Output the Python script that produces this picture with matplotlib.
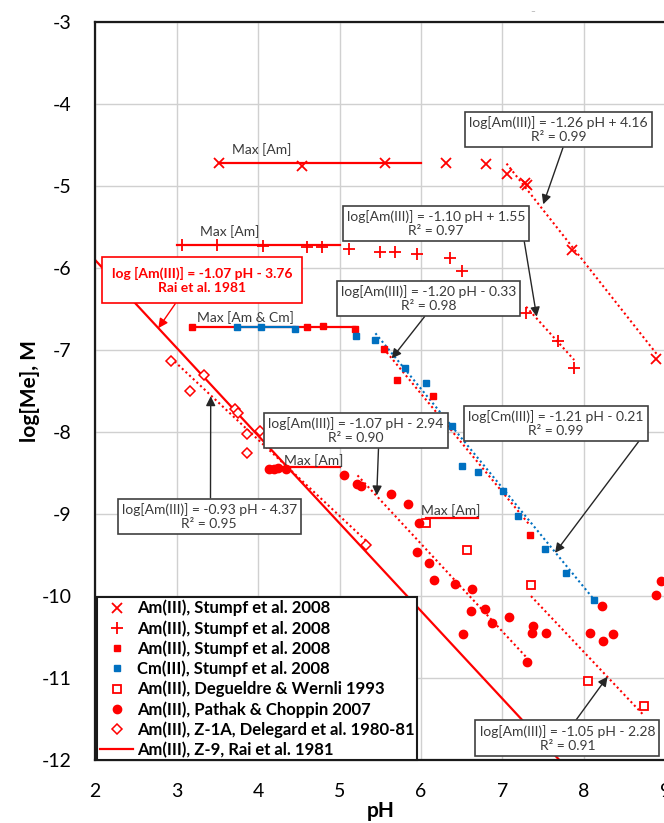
import matplotlib
matplotlib.use('Agg')
import matplotlib.pyplot as plt
import numpy as np

plt.rcParams['font.family'] = ['Lato', 'DejaVu Sans']
plt.rcParams['axes.unicode_minus'] = False

RED = '#ff0000'
BLUE = '#0070c0'
BOX_TEXT = '#3a3a3a'

# Am(III), Stumpf et al. 2008 (x markers)
x_ph = [3.52, 4.54, 5.56, 6.31, 6.80, 7.05, 7.28, 7.30, 7.85, 8.89]
x_log = [-4.72, -4.75, -4.71, -4.71, -4.73, -4.85, -4.96, -4.98, -5.78, -7.11]

# Am(III), Stumpf et al. 2008 (+ markers)
plus_ph = [3.07, 3.49, 4.06, 4.60, 4.79, 5.11, 5.50, 5.68, 5.95, 6.35, 6.50, 7.29, 7.68, 7.88]
plus_log = [-5.72, -5.72, -5.73, -5.74, -5.74, -5.77, -5.80, -5.80, -5.83, -5.88, -6.03, -6.54, -6.89, -7.21]

# Am(III), Stumpf et al. 2008 (filled squares)
am_sq_ph = [3.19, 4.60, 4.80, 5.19, 5.54, 5.70, 6.15, 7.34]
am_sq_log = [-6.71, -6.71, -6.70, -6.74, -6.98, -7.36, -7.56, -9.25]

# Cm(III), Stumpf et al. 2008
cm_ph = [3.74, 4.04, 4.45, 5.20, 5.44, 5.80, 6.06, 6.38, 6.50, 6.70, 7.01, 7.19, 7.52, 7.78, 8.12]
cm_log = [-6.71, -6.72, -6.74, -6.82, -6.87, -7.22, -7.40, -7.92, -8.41, -8.48, -8.72, -9.02, -9.42, -9.72, -10.04]

# Am(III), Degueldre & Wernli 1993
deg_ph = [6.06, 6.57, 7.35, 8.05, 8.74]
deg_log = [-9.11, -9.43, -9.86, -11.03, -11.34]

# Am(III), Pathak & Choppin 2007
pathak_ph = [4.13, 4.19, 4.24, 4.34, 5.05, 5.22, 5.26, 5.63, 5.84, 5.98, 5.95, 6.10, 6.16, 6.42, 6.63,
             6.61, 6.78, 7.08, 6.87, 6.51, 7.37, 7.36, 7.53, 7.30, 8.07, 8.22, 8.23, 8.36, 8.88, 8.95]
pathak_log = [-8.45, -8.45, -8.44, -8.45, -8.52, -8.63, -8.65, -8.75, -8.87, -9.11, -9.46, -9.60, -9.80, -9.85, -9.91,
              -10.18, -10.15, -10.25, -10.32, -10.46, -10.36, -10.45, -10.45, -10.80, -10.45, -10.12, -10.55, -10.46, -9.98, -9.81]

# Am(III), Z-1A, Delegard et al. 1980-81
delegard_ph = [2.93, 3.16, 3.34, 3.72, 3.75, 3.86, 4.02, 3.86, 5.32]
delegard_log = [-7.13, -7.50, -7.30, -7.72, -7.77, -8.02, -7.98, -8.25, -9.37]

# linear fits: slope, intercept, pH from, pH to
fit_x = (-1.26, 4.16, 7.05, 8.89)
fit_plus = (-1.10, 1.55, 7.29, 7.88)
fit_am_sq = (-1.20, -0.33, 5.54, 7.34)
fit_cm = (-1.21, -0.21, 5.44, 8.12)
fit_pathak = (-1.07, -2.94, 5.22, 7.30)
fit_deg = (-1.05, -2.28, 7.35, 8.74)
fit_delegard = (-0.93, -4.37, 2.93, 5.32)
rai_fit = (-1.07, -3.76, 1.9, 7.9)

# solubility plateaus: pH from, pH to, log level
max_x = (3.52, 6.00, -4.72)
max_plus = (3.01, 5.00, -5.71)
max_am_cm = (3.19, 5.19, -6.71)
max_cm = (3.74, 4.45, -6.715)
max_pathak = (4.13, 5.00, -8.42)
max_deg = (6.06, 6.70, -9.05)


def fit_line(fit):
    slope, icpt, lo, hi = fit
    ph = np.array([lo, hi])
    return ph, slope * ph + icpt


fig = plt.figure(figsize=(6.64, 8.23), dpi=100)
ax = fig.add_axes([0.1434, 0.0762, 0.8587, 0.8967])

dotted = (0, (1, 1.4))
for fit, col in [(fit_x, RED), (fit_plus, RED), (fit_am_sq, RED), (fit_cm, BLUE),
                 (fit_pathak, RED), (fit_deg, RED), (fit_delegard, RED)]:
    ph, lg = fit_line(fit)
    ax.plot(ph, lg, color=col, lw=1.5, linestyle=dotted, zorder=2)

for lo, hi, lev in [max_x, max_plus, max_am_cm, max_pathak, max_deg]:
    ax.plot([lo, hi], [lev, lev], color=RED, lw=1.6, zorder=2)
ax.plot(max_cm[:2], [max_cm[2]] * 2, color=BLUE, lw=1.6, zorder=2)

ax.plot(x_ph, x_log, 'x', color=RED, ms=7, mew=1.3, ls='none', label='Am(III), Stumpf et al. 2008', zorder=3)
ax.plot(plus_ph, plus_log, '+', color=RED, ms=9, mew=1.3, ls='none', label='Am(III), Stumpf et al. 2008', zorder=3)
ax.plot(am_sq_ph, am_sq_log, 's', color=RED, ms=5, ls='none', label='Am(III), Stumpf et al. 2008', zorder=3)
ax.plot(cm_ph, cm_log, 's', color=BLUE, ms=5, ls='none', label='Cm(III), Stumpf et al. 2008', zorder=3)
ax.plot(deg_ph, deg_log, 's', mfc='white', mec=RED, mew=1.3, ms=5.5, ls='none',
        label='Am(III), Degueldre & Wernli 1993', zorder=3)
ax.plot(pathak_ph, pathak_log, 'o', color=RED, ms=6, ls='none', label='Am(III), Pathak & Choppin 2007', zorder=3)
ax.plot(delegard_ph, delegard_log, 'D', mfc='white', mec=RED, mew=1.1, ms=5.5, ls='none',
        label='Am(III), Z-1A, Delegard et al. 1980-81', zorder=3)
ph, lg = fit_line(rai_fit)
ax.plot(ph, lg, color=RED, lw=1.6, label='Am(III), Z-9, Rai et al. 1981', zorder=2)

# plateau labels
for txt, (px, py) in [('Max [Am]', (4.04, -4.55)), ('Max [Am]', (3.65, -5.55)),
                      ('Max [Am & Cm]', (3.84, -6.60)), ('Max [Am]', (4.68, -8.34)),
                      ('Max [Am]', (6.36, -8.95))]:
    ax.text(px, py, txt, fontsize=10, color=BOX_TEXT, ha='center', va='center', zorder=4)

# fit equations with arrows
notes = [
    ('log[Am(III)] = -1.26 pH + 4.16\nR² = 0.99', (7.50, -5.22), (7.686, -4.307), (0.535, 0)),
    ('log[Am(III)] = -1.10 pH + 1.55\nR² = 0.97', (7.42, -6.59), (6.184, -5.451), (0.99, 0)),
    ('log[Am(III)] = -1.20 pH - 0.33\nR² = 0.98', (5.64, -7.10), (6.090, -6.366), (0.5, 0)),
    ('log[Cm(III)] = -1.21 pH - 0.21\nR² = 0.99', (7.645, -9.47), (7.660, -7.890), (0.99, 0)),
    ('log[Am(III)] = -1.07 pH - 2.94\nR² = 0.90', (5.456, -8.77), (5.200, -7.978), (0.63, 0)),
    ('log[Am(III)] = -0.93 pH - 4.37\nR² = 0.95', (3.418, -7.56), (3.400, -9.023), (0.507, 1)),
    ('log[Am(III)] = -1.05 pH - 2.28\nR² = 0.91', (8.29, -10.98), (7.797, -11.73), (0.53, 1)),
]
for txt, tip, ctr, rel in notes:
    ax.annotate(txt, xy=tip, xytext=ctr, ha='center', va='center', fontsize=10, color=BOX_TEXT,
                bbox=dict(boxstyle='square,pad=0.3', fc='white', ec='#404040', lw=1.2),
                arrowprops=dict(arrowstyle='-|>', color='#262626', lw=1.0, mutation_scale=14,
                                relpos=rel, shrinkA=0, shrinkB=0),
                zorder=6)

ax.annotate('log [Am(III)] = -1.07 pH - 3.76\nRai et al. 1981', xy=(2.775, -6.73), xytext=(3.313, -6.143),
            ha='center', va='center', fontsize=10, fontweight='bold', color=RED,
            bbox=dict(boxstyle='square,pad=0.7', fc='white', ec=RED, lw=1.2),
            arrowprops=dict(arrowstyle='-|>', color=RED, lw=1.0, mutation_scale=14,
                            relpos=(0.39, 0), shrinkA=0, shrinkB=0),
            zorder=6)

ax.set_xlim(2, 9)
ax.set_ylim(-12, -3)
ax.set_xticks(range(2, 10))
ax.set_yticks(range(-12, -2))
ax.tick_params(length=0, labelsize=14)
ax.tick_params(axis='x', pad=16)
ax.tick_params(axis='y', pad=17)
ax.grid(True, color='#d0d0d0', lw=1.0)
ax.set_axisbelow(True)
for sp in ax.spines.values():
    sp.set_linewidth(1.6)
    sp.set_color('#1a1a1a')

ax.set_xlabel('pH', fontsize=15, fontweight='bold', labelpad=1)
ax.set_ylabel('log[Me], M', fontsize=15, fontweight='bold', labelpad=1)

leg = ax.legend(loc='lower left', bbox_to_anchor=(0.004, 0.0), borderaxespad=0,
                prop={'weight': 'bold', 'size': 12}, labelspacing=0.22, handlelength=2.0,
                handletextpad=0.2, borderpad=0.15, fancybox=False, framealpha=1, edgecolor='#1a1a1a')
leg.get_frame().set_linewidth(1.5)
leg.set_zorder(8)

fig.text(533 / 664, 1 - 12 / 823, '–', fontsize=6, color='#888888', ha='center', va='center')

fig.savefig('out.png', dpi=100)
